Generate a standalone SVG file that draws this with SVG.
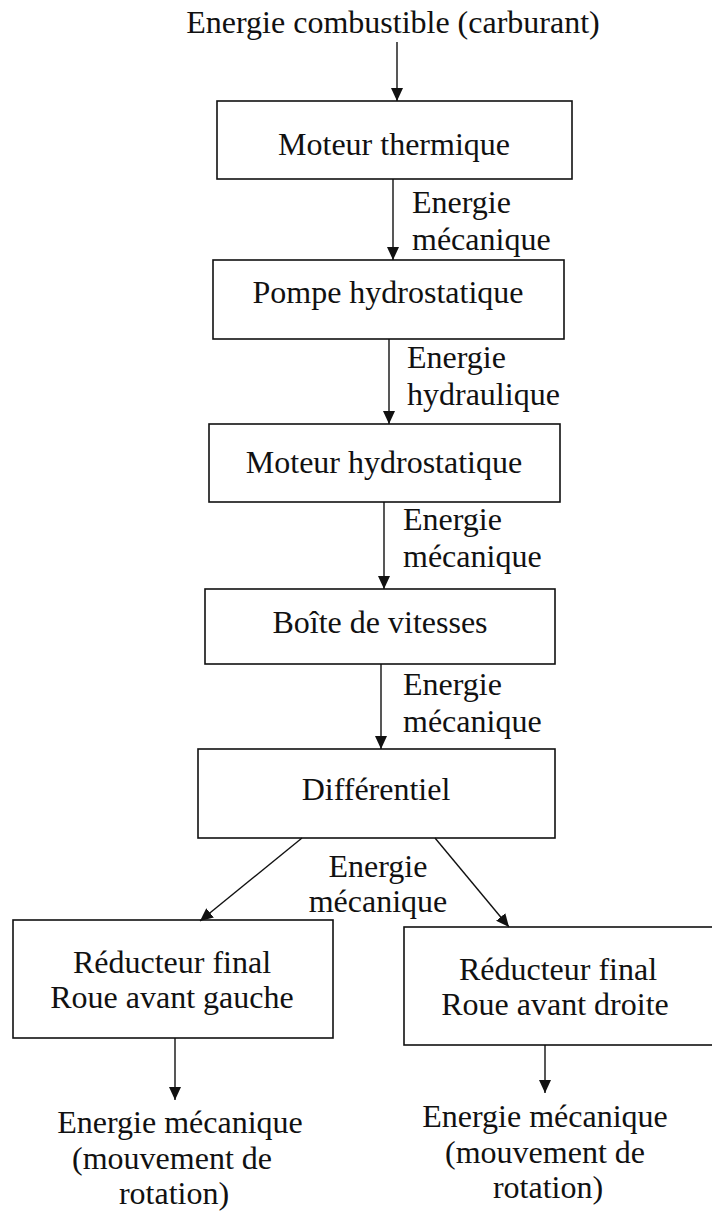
<svg xmlns="http://www.w3.org/2000/svg" width="712" height="1212" viewBox="0 0 712 1212">
  <style>
    text { font-family: "Liberation Serif", "Times New Roman", serif; font-size: 32px; fill: #111; }
    .c { text-anchor: middle; }
    .box { fill: #fff; stroke: #111; stroke-width: 1.6; }
    .arr { stroke: #111; stroke-width: 1.4; fill: none; marker-end: url(#ah); }
  </style>
  <defs>
    <marker id="ah" markerUnits="userSpaceOnUse" markerWidth="14" markerHeight="12" refX="13" refY="6" orient="auto">
      <path d="M0,0 L13,6 L0,12 Z" fill="#111"/>
    </marker>
  </defs>
  <rect width="712" height="1212" fill="#fff"/>

  <text id="title" class="c" x="393" y="33">Energie combustible (carburant)</text>

  <g id="n1"><rect class="box" x="217" y="101" width="355" height="78"/><text class="c" x="394" y="155">Moteur thermique</text></g>
  <g id="n2"><rect class="box" x="213" y="260" width="351" height="79"/><text class="c" x="388" y="303">Pompe hydrostatique</text></g>
  <g id="n3"><rect class="box" x="209" y="424" width="351" height="78"/><text class="c" x="384" y="473">Moteur hydrostatique</text></g>
  <g id="n4"><rect class="box" x="205" y="589" width="350" height="75"/><text class="c" x="380" y="633">Boîte de vitesses</text></g>
  <g id="n5"><rect class="box" x="198" y="749" width="357" height="89"/><text class="c" x="376" y="800">Différentiel</text></g>
  <g id="n6"><rect class="box" x="13" y="920" width="320" height="118"/><text class="c" x="172" y="973">Réducteur final</text><text class="c" x="172" y="1008">Roue avant gauche</text></g>
  <g id="n7"><rect class="box" x="404" y="927" width="320" height="118"/><text class="c" x="558" y="980">Réducteur final</text><text class="c" x="555" y="1015">Roue avant droite</text></g>

  <g id="out-left"><text class="c" x="180" y="1133">Energie mécanique</text><text class="c" x="172" y="1169">(mouvement de</text><text class="c" x="174" y="1204">rotation)</text></g>
  <g id="out-right"><text class="c" x="545" y="1127">Energie mécanique</text><text class="c" x="545" y="1163">(mouvement de</text><text class="c" x="548" y="1198">rotation)</text></g>

  <g id="connectors">
    <line class="arr" x1="397" y1="42" x2="397" y2="101"/>
    <line class="arr" x1="393" y1="179" x2="393" y2="260"/>
    <line class="arr" x1="389" y1="339" x2="389" y2="424"/>
    <line class="arr" x1="384" y1="502" x2="384" y2="589"/>
    <line class="arr" x1="381" y1="664" x2="381" y2="749"/>
    <line class="arr" x1="302" y1="838" x2="200" y2="921"/>
    <line class="arr" x1="435" y1="838" x2="509" y2="927"/>
    <line class="arr" x1="175" y1="1038" x2="175" y2="1100"/>
    <line class="arr" x1="545" y1="1045" x2="545" y2="1093"/>
  </g>

  <g id="labels">
    <text x="412" y="213">Energie</text><text x="412" y="250">mécanique</text>
    <text x="407" y="368">Energie</text><text x="407" y="405">hydraulique</text>
    <text x="403" y="530">Energie</text><text x="403" y="567">mécanique</text>
    <text x="403" y="695">Energie</text><text x="403" y="732">mécanique</text>
    <text class="c" x="378" y="877">Energie</text><text class="c" x="378" y="912">mécanique</text>
  </g>
</svg>
